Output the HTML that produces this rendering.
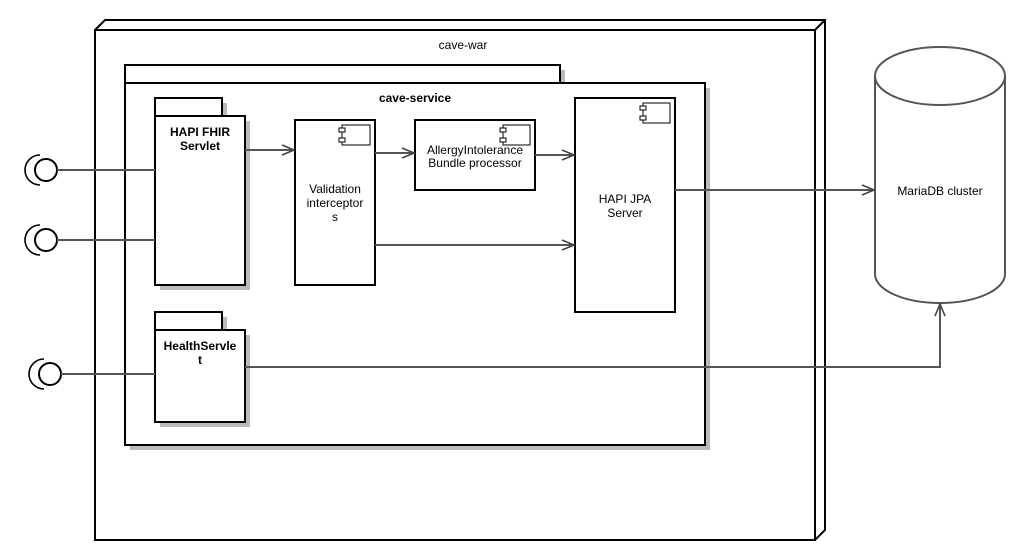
<!DOCTYPE html>
<html><head><meta charset="utf-8"><style>
html,body{margin:0;padding:0;background:#fff;}
svg{display:block;}
text{font-family:"Liberation Sans",Arial,sans-serif;font-size:12px;fill:#000;}
.b{font-weight:bold;}
</style></head><body>
<svg width="1031" height="560" viewBox="0 0 1031 560" xmlns="http://www.w3.org/2000/svg">
<defs>
<marker id="ar" markerWidth="14" markerHeight="12" refX="13" refY="6" orient="auto" markerUnits="userSpaceOnUse">
<path d="M1,1 L13,6 L1,11" fill="none" stroke="#444" stroke-width="1.6"/>
</marker>
</defs>
<!-- cave-war node -->
<path d="M95,30 L105,20 L825,20 L825,530 L815,540" fill="none" stroke="#000" stroke-width="2"/>
<line x1="815" y1="30" x2="825" y2="20" stroke="#000" stroke-width="2"/>
<rect x="95" y="30" width="720" height="510" fill="#fff" stroke="#000" stroke-width="2"/>
<text x="463" y="49" text-anchor="middle">cave-war</text>

<!-- cave-service package -->
<rect x="130" y="70" width="435" height="18" fill="#bbb"/>
<rect x="130" y="88" width="580" height="362" fill="#bbb"/>
<rect x="125" y="65" width="435" height="18" fill="#fff" stroke="#000" stroke-width="2"/>
<rect x="125" y="83" width="580" height="362" fill="#fff" stroke="#000" stroke-width="2"/>
<text x="415" y="102" text-anchor="middle" class="b">cave-service</text>

<!-- HAPI FHIR Servlet -->
<rect x="160" y="103" width="67" height="18" fill="#bbb"/>
<rect x="160" y="121" width="90" height="169" fill="#bbb"/>
<rect x="155" y="98" width="67" height="18" fill="#fff" stroke="#000" stroke-width="2"/>
<rect x="155" y="116" width="90" height="169" fill="#fff" stroke="#000" stroke-width="2"/>
<text x="200" y="136" text-anchor="middle" class="b">HAPI FHIR</text>
<text x="200" y="150" text-anchor="middle" class="b">Servlet</text>

<!-- HealthServlet -->
<rect x="160" y="317" width="67" height="18" fill="#bbb"/>
<rect x="160" y="335" width="90" height="92" fill="#bbb"/>
<rect x="155" y="312" width="67" height="18" fill="#fff" stroke="#000" stroke-width="2"/>
<rect x="155" y="330" width="90" height="92" fill="#fff" stroke="#000" stroke-width="2"/>
<text x="200" y="350" text-anchor="middle" class="b">HealthServle</text>
<text x="200" y="364" text-anchor="middle" class="b">t</text>

<!-- Validation interceptors -->
<rect x="295" y="120" width="80" height="165" fill="#fff" stroke="#000" stroke-width="2"/>
<rect x="342" y="125" width="28" height="20" fill="#fff" stroke="#000" stroke-width="1"/>
<rect x="339" y="128" width="6" height="4" fill="#fff" stroke="#000" stroke-width="1"/>
<rect x="339" y="138" width="6" height="4" fill="#fff" stroke="#000" stroke-width="1"/>
<text x="335" y="193" text-anchor="middle">Validation</text>
<text x="335" y="207" text-anchor="middle">interceptor</text>
<text x="335" y="221" text-anchor="middle">s</text>

<!-- Allergy -->
<rect x="415" y="120" width="120" height="70" fill="#fff" stroke="#000" stroke-width="2"/>
<rect x="503" y="125" width="27" height="20" fill="#fff" stroke="#000" stroke-width="1"/>
<rect x="500" y="128" width="6" height="4" fill="#fff" stroke="#000" stroke-width="1"/>
<rect x="500" y="138" width="6" height="4" fill="#fff" stroke="#000" stroke-width="1"/>
<text x="475" y="154" text-anchor="middle">AllergyIntolerance</text>
<text x="475" y="167" text-anchor="middle">Bundle processor</text>

<!-- HAPI JPA Server -->
<rect x="575" y="98" width="100" height="214" fill="#fff" stroke="#000" stroke-width="2"/>
<rect x="643" y="103" width="27" height="20" fill="#fff" stroke="#000" stroke-width="1"/>
<rect x="640" y="106" width="6" height="4" fill="#fff" stroke="#000" stroke-width="1"/>
<rect x="640" y="116" width="6" height="4" fill="#fff" stroke="#000" stroke-width="1"/>
<text x="625" y="203" text-anchor="middle">HAPI JPA</text>
<text x="625" y="217" text-anchor="middle">Server</text>

<!-- MariaDB -->
<path d="M875,76 A65,29 0 0 1 1005,76 L1005,274 A65,29 0 0 1 875,274 Z" fill="#fff" stroke="#555" stroke-width="2"/>
<path d="M875,76 A65,29 0 0 0 1005,76" fill="none" stroke="#555" stroke-width="2"/>
<text x="940" y="195" text-anchor="middle">MariaDB cluster</text>

<!-- interfaces -->
<g fill="#fff" stroke="#000" stroke-width="2">
<circle cx="46" cy="170" r="11"/>
<circle cx="46" cy="240" r="11"/>
<circle cx="50" cy="374" r="11"/>
</g>
<g fill="none" stroke="#000" stroke-width="1.6">
<path d="M40,155 A15,15 0 0 0 40,185"/>
<path d="M40,225 A15,15 0 0 0 40,255"/>
<path d="M44,359 A15,15 0 0 0 44,389"/>
</g>

<!-- connectors -->
<g stroke="#555" stroke-width="2" fill="none">
<line x1="57" y1="170" x2="155" y2="170"/>
<line x1="57" y1="240" x2="155" y2="240"/>
<line x1="61" y1="374" x2="155" y2="374"/>
<line x1="245" y1="150" x2="294" y2="150" marker-end="url(#ar)"/>
<line x1="375" y1="153" x2="414" y2="153" marker-end="url(#ar)"/>
<line x1="535" y1="155" x2="574" y2="155" marker-end="url(#ar)"/>
<line x1="375" y1="245" x2="574" y2="245" marker-end="url(#ar)"/>
<line x1="675" y1="190" x2="874" y2="190" marker-end="url(#ar)"/>
<polyline points="245,367 940,367 940,304" marker-end="url(#ar)"/>
</g>
</svg>
</body></html>
